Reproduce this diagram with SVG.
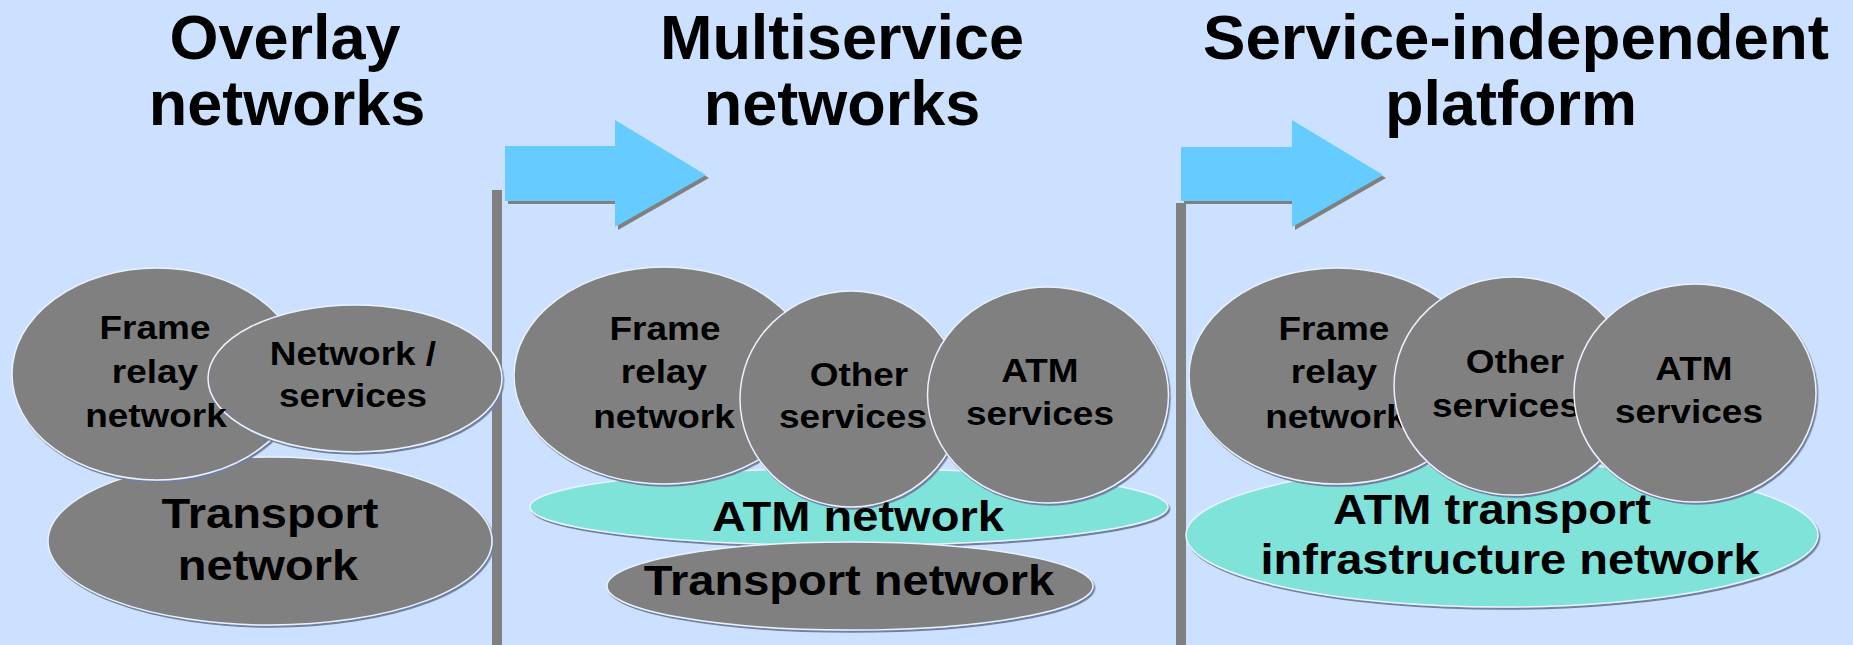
<svg xmlns="http://www.w3.org/2000/svg" width="1853" height="645" viewBox="0 0 1853 645">
<style>
text{font-family:"Liberation Sans",Arial,sans-serif;font-weight:bold;fill:#000;text-anchor:middle}
.title{font-size:63px}
.s{font-size:33px;transform-box:fill-box;transform-origin:center;transform:scaleX(1.12)}
.l{font-size:42px;transform-box:fill-box;transform-origin:center;transform:scaleX(1.12)}
.g{fill:#808080;stroke:#EAF2FF;stroke-width:1.5;filter:url(#sh)}
.t{fill:#80E3DA;stroke:#EAF2FF;stroke-width:1.5;filter:url(#sh)}
.arrow{fill:#66CCFF;filter:url(#ash)}
.pole{fill:#808080}
</style>
<defs>
<filter id="sh" x="-5%" y="-5%" width="112%" height="115%">
<feDropShadow dx="1.5" dy="2" stdDeviation="0.6" flood-color="#7080A0" flood-opacity="1"/>
</filter>
<filter id="ash" x="-5%" y="-5%" width="115%" height="120%">
<feDropShadow dx="3" dy="3" stdDeviation="0.4" flood-color="#808080" flood-opacity="1"/>
</filter>
</defs>
<rect width="1853" height="645" fill="#CCE0FF"/>

<g id="titles">
<text class="title" x="285" y="59">Overlay</text>
<text class="title" x="287" y="125">networks</text>
<text class="title" x="842" y="59">Multiservice</text>
<text class="title" x="842" y="125">networks</text>
<text class="title" x="1516" y="59" textLength="626" lengthAdjust="spacingAndGlyphs">Service-independent</text>
<text class="title" x="1511" y="125">platform</text>
</g>

<g id="connectors">
<rect class="pole" x="492" y="190" width="10" height="455"/>
<rect class="pole" x="1176" y="203" width="10" height="442"/>
<polygon class="arrow" points="505,146 615,146 615,120 706,175 615,227 615,201 505,201"/>
<polygon class="arrow" points="1181,147 1292,147 1292,120 1383,175 1292,227 1292,201 1181,201"/>
</g>

<g id="p1-transport">
<ellipse class="g" cx="270" cy="541" rx="222" ry="84"/>
<text class="l" x="270" y="528">Transport</text>
<text class="l" x="268" y="580">network</text>
</g>
<g id="p1-frame-relay">
<ellipse class="g" cx="157" cy="374" rx="145" ry="106"/>
</g>
<g id="p1-network-services">
<ellipse class="g" cx="355" cy="378.5" rx="147" ry="73.5"/>
<text class="s" x="353" y="365">Network /</text>
<text class="s" x="353" y="407">services</text>
</g>
<g id="p1-frame-relay-label">
<text class="s" x="155" y="339">Frame</text>
<text class="s" x="155" y="383">relay</text>
<text class="s" x="156" y="427">network</text>
</g>

<g id="p2-atm-network">
<ellipse class="t" cx="849" cy="507" rx="319" ry="38.5"/>
</g>
<g id="p2-transport">
<ellipse class="g" cx="850" cy="586" rx="243" ry="44"/>
<text class="l" x="849" y="595">Transport network</text>
</g>
<g id="p2-frame-relay">
<ellipse class="g" cx="664" cy="375.5" rx="150" ry="108.5"/>
<text class="s" x="665" y="340">Frame</text>
<text class="s" x="664" y="383">relay</text>
<text class="s" x="664" y="428">network</text>
</g>
<g id="p2-other-services">
<ellipse class="g" cx="851" cy="399" rx="111" ry="108"/>
<text class="s" x="859" y="386">Other</text>
<text class="s" x="853" y="428">services</text>
</g>
<g id="p2-atm-services">
<ellipse class="g" cx="1048" cy="395" rx="120.5" ry="108"/>
<text class="s" x="1040" y="382">ATM</text>
<text class="s" x="1040" y="425">services</text>
</g>
<g id="p2-atm-network-label">
<text class="l" x="858" y="531">ATM network</text>
</g>

<g id="p3-atm-transport">
<ellipse class="t" cx="1502" cy="535" rx="316" ry="72"/>
</g>
<g id="p3-frame-relay">
<ellipse class="g" cx="1337" cy="376" rx="148" ry="108"/>
<text class="s" x="1334" y="340">Frame</text>
<text class="s" x="1334" y="383">relay</text>
<text class="s" x="1336" y="428">network</text>
</g>
<g id="p3-other-services">
<ellipse class="g" cx="1513" cy="386" rx="119" ry="109"/>
<text class="s" x="1515" y="373">Other</text>
<text class="s" x="1506" y="417">services</text>
</g>
<g id="p3-atm-services">
<ellipse class="g" cx="1695" cy="393" rx="121" ry="109"/>
<text class="s" x="1694" y="380">ATM</text>
<text class="s" x="1689" y="423">services</text>
</g>
<g id="p3-atm-transport-label">
<text class="l" x="1492" y="524">ATM transport</text>
<text class="l" x="1510" y="574">infrastructure network</text>
</g>
</svg>
